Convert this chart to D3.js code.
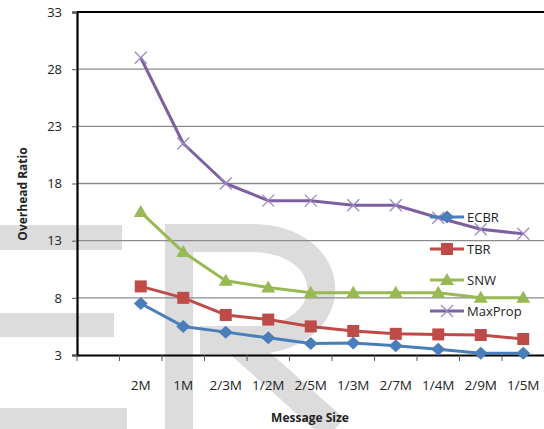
<!DOCTYPE html>
<html>
<head>
<meta charset="utf-8">
<script src="https://cdn.jsdelivr.net/npm/d3@7"></script>
<style>
body { margin: 0; background: #fff; }
svg text { font-family: "Open Sans", "Liberation Sans", sans-serif; }
</style>
</head>
<body>
<svg width="544" height="429"></svg>
<script>
// categories (first slot is left empty in the original chart)
var sizes = ["", "2M", "1M", "2/3M", "1/2M", "2/5M", "1/3M", "2/7M", "1/4M", "2/9M", "1/5M"];
var yTicks = [3, 8, 13, 18, 23, 28, 33];

var seriesNames = ["ECBR", "TBR", "SNW", "MaxProp"];
var ecbr = [7.5, 5.5, 5.0, 4.5, 4.0, 4.05, 3.8, 3.5, 3.15, 3.15];
var tbr = [9.0, 8.0, 6.5, 6.1, 5.5, 5.1, 4.85, 4.8, 4.75, 4.4];
var snw = [15.5, 12.0, 9.5, 8.9, 8.45, 8.45, 8.45, 8.45, 8.0, 8.0];
var maxprop = [29.0, 21.5, 18.0, 16.5, 16.5, 16.1, 16.1, 15.0, 14.0, 13.6];

var colors = ["#4a7ebb", "#be4b48", "#98b954", "#7d60a0"];
var shapes = ["diamond", "square", "triangle", "cross"];

var svg = d3.select("svg");

// background watermark
var wm = svg.append("g").attr("fill", "#dcdcdc");
wm.append("rect").attr("x", 0).attr("y", 225).attr("width", 122).attr("height", 25);
wm.append("rect").attr("x", 0).attr("y", 313).attr("width", 114).attr("height", 24);
wm.append("rect").attr("x", 0).attr("y", 408).attr("width", 127).attr("height", 21);
svg.append("path")
  .attr("d", "M179,429 L179,238 L250,238 C345,238 345,340 250,340 L200,340 M235,340 L335,429")
  .attr("fill", "none")
  .attr("stroke", "#dcdcdc")
  .attr("stroke-width", 28);

var x = d3.scaleBand().domain(sizes).range([77, 544.5]);
var y = d3.scaleLinear().domain([3, 33]).range([355, 12]);

var cx = function(i) { return x(sizes[i + 1]) + x.bandwidth() / 2; };

// gridlines
svg.append("g").selectAll("line")
  .data(yTicks.slice(1, -1))
  .enter().append("line")
  .attr("x1", 77).attr("x2", 544)
  .attr("y1", function(d) { return y(d); })
  .attr("y2", function(d) { return y(d); })
  .attr("stroke", "#8c8c8c")
  .attr("stroke-width", 1.3);

// top border
svg.append("line")
  .attr("x1", 77).attr("x2", 544)
  .attr("y1", y(33)).attr("y2", y(33))
  .attr("stroke", "#000").attr("stroke-width", 2.2);

// y axis
var yAxis = svg.append("g")
  .attr("transform", "translate(77,0)")
  .call(d3.axisLeft(y).tickValues(yTicks).tickSize(5).tickPadding(10));
yAxis.select(".domain").attr("stroke", "#000").attr("stroke-width", 2.2);
yAxis.selectAll(".tick line").attr("stroke", "#555");
yAxis.selectAll("text").attr("font-size", 13).attr("fill", "#222");

// x axis
var xAxis = svg.append("g")
  .attr("transform", "translate(0,355)")
  .call(d3.axisBottom(x).tickSize(0).tickPadding(25));
xAxis.select(".domain").attr("stroke", "#000").attr("stroke-width", 2.2);
xAxis.selectAll("text").attr("font-size", 13.5).attr("fill", "#222");
svg.append("g").selectAll("line")
  .data(sizes)
  .enter().append("line")
  .attr("x1", function(d) { return x(d); })
  .attr("x2", function(d) { return x(d); })
  .attr("y1", 355).attr("y2", 361)
  .attr("stroke", "#555");

// axis titles
svg.append("text")
  .attr("transform", "translate(27,194) rotate(-90)")
  .attr("text-anchor", "middle")
  .attr("font-size", 12).attr("font-weight", "bold")
  .attr("fill", "#222")
  .text("Overhead Ratio");
svg.append("text")
  .attr("x", 310).attr("y", 422)
  .attr("text-anchor", "middle")
  .attr("font-size", 12).attr("font-weight", "bold")
  .attr("fill", "#222")
  .text("Message Size");

function marker(g, shape, color, px, py) {
  if (shape == "diamond") {
    g.append("path").attr("d", "M0,-6.5L7,0L0,6.5L-7,0Z")
      .attr("transform", "translate(" + px + "," + py + ")").attr("fill", color);
  } else if (shape == "square") {
    g.append("rect").attr("x", px - 6).attr("y", py - 6).attr("width", 12).attr("height", 12)
      .attr("fill", color);
  } else if (shape == "triangle") {
    g.append("path").attr("d", "M0,-7L7,5L-7,5Z")
      .attr("transform", "translate(" + px + "," + py + ")").attr("fill", color);
  } else {
    g.append("path").attr("d", "M-6,-6L6,6M-6,6L6,-6")
      .attr("transform", "translate(" + px + "," + py + ")")
      .attr("stroke", "#9c88c0").attr("stroke-width", 1.3).attr("fill", "none");
  }
}

var allData = [ecbr, tbr, snw, maxprop];
var line = d3.line()
  .x(function(d, i) { return cx(i); })
  .y(function(d) { return y(d); });

// draw back to front: MaxProp first, ECBR last
for (var s = 3; s >= 0; s--) {
  var g = svg.append("g");
  g.append("path")
    .datum(allData[s])
    .attr("d", line)
    .attr("fill", "none")
    .attr("stroke", colors[s])
    .attr("stroke-width", 3)
    .attr("stroke-linejoin", "round");
  allData[s].forEach(function(d, i) {
    marker(g, shapes[s], colors[s], cx(i), y(d));
  });
}

// legend
var legendY = [217, 249, 280, 311];
seriesNames.forEach(function(n, i) {
  var g = svg.append("g");
  g.append("line")
    .attr("x1", 430).attr("x2", 464)
    .attr("y1", legendY[i]).attr("y2", legendY[i])
    .attr("stroke", colors[i]).attr("stroke-width", 3);
  marker(g, shapes[i], colors[i], 447, legendY[i]);
  g.append("text")
    .attr("x", 467).attr("y", legendY[i] + 5)
    .attr("font-size", 13).attr("fill", "#222")
    .text(n);
});
</script>
</body>
</html>
